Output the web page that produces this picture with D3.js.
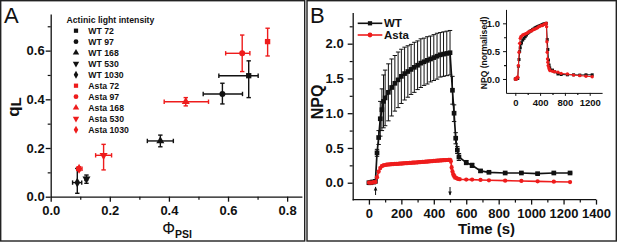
<html>
<head>
<script src="https://cdnjs.cloudflare.com/ajax/libs/d3/7.8.5/d3.min.js"></script>
<style>
    body { margin: 0; background: white; }
    svg { font-family: Arial, "Liberation Sans", sans-serif; }
</style>
</head>
<body>
<script>
// ---- panel A : qL vs PhiPSI ----
var aLabels = ["WT 72", "WT 97", "WT 168", "WT 530", "WT 1030",
               "Asta 72", "Asta 97", "Asta 168", "Asta 530", "Asta 1030"];
var aPhi   = [0.670, 0.581, 0.371, 0.121, 0.090, 0.734, 0.648, 0.457, 0.179, 0.096];
var aPhiLo = [0.569, 0.516, 0.327, 0.116, 0.074, 0.727, 0.592, 0.384, 0.152, 0.088];
var aPhiHi = [0.702, 0.649, 0.415, 0.125, 0.105, 0.739, 0.674, 0.534, 0.206, 0.106];
var aQL    = [0.497, 0.422, 0.229, 0.073, 0.058, 0.637, 0.589, 0.390, 0.170, 0.115];
var aQLLo  = [0.407, 0.381, 0.205, 0.055, 0.014, 0.578, 0.514, 0.373, 0.110, 0.107];
var aQLHi  = [0.558, 0.466, 0.253, 0.089, 0.116, 0.692, 0.664, 0.407, 0.215, 0.123];
var aTicksX = [0, 0.2, 0.4, 0.6, 0.8];
var aTicksY = [0, 0.2, 0.4, 0.6];

// ---- panel B : NPQ kinetics ----
var wtTime = [0, 10, 20, 30, 40, 50, 60, 70, 80, 90, 100,
              120, 140, 160, 180, 200, 220, 240, 260, 280, 300, 320, 340, 360, 380, 400, 420, 440, 460, 480, 500,
              515, 525, 535, 545, 555, 600, 636, 688, 740, 840, 940, 1040, 1140, 1240];
var wtNpq = [0, 0, 0.01, 0.01, 0.02, 0.43, 0.65, 0.92, 1.05, 1.17, 1.22,
             1.30, 1.37, 1.43, 1.48, 1.53, 1.57, 1.60, 1.63, 1.66, 1.69, 1.72, 1.74, 1.76, 1.78, 1.80, 1.82, 1.84, 1.85, 1.86, 1.87,
             1.33, 1.0, 0.64, 0.47, 0.37, 0.29, 0.25, 0.17, 0.15, 0.14, 0.14, 0.13, 0.14, 0.14];
var wtErr = [0, 0, 0, 0, 0, 0.05, 0.1, 0.25, 0.3, 0.38, 0.4,
             0.41, 0.41, 0.4, 0.4, 0.39, 0.38, 0.37, 0.36, 0.36, 0.35, 0.35, 0.34, 0.34, 0.33, 0.33, 0.33, 0.32, 0.32, 0.32, 0.32,
             0.2, 0.12, 0.08, 0.05, 0.05, 0.03, 0.03, 0.02, 0.01, 0.01, 0.01, 0.01, 0.01, 0.01];

var astaTime = [0, 10, 20, 30, 40, 50, 60, 70, 80, 90, 100, 110, 120, 130, 140, 150, 160, 170, 180, 190, 200,
                210, 220, 230, 240, 250, 260, 270, 280, 290, 300, 310, 320, 330, 340, 350, 360, 370, 380, 390, 400,
                410, 420, 430, 440, 450, 460, 470, 480, 490, 500,
                505, 510, 515, 520, 525, 530, 540, 550, 560, 600, 636, 688, 740, 840, 940, 1040, 1140, 1240];
var astaNpq = [0, 0, 0, 0.01, 0.01, 0.08, 0.16, 0.21, 0.24, 0.25, 0.255, 0.26, 0.262, 0.265, 0.266, 0.268, 0.27, 0.27, 0.272, 0.275, 0.276,
               0.278, 0.28, 0.281, 0.283, 0.285, 0.286, 0.288, 0.29, 0.291, 0.293, 0.295, 0.297, 0.299, 0.3, 0.302, 0.305, 0.307, 0.309, 0.31, 0.313,
               0.315, 0.317, 0.318, 0.32, 0.322, 0.324, 0.325, 0.327, 0.328, 0.33,
               0.31, 0.22, 0.16, 0.12, 0.1, 0.08, 0.065, 0.055, 0.05, 0.045, 0.045, 0.04, 0.035, 0.03, 0.025, 0.02, 0.015, 0.01];
var astaErr = [0, 0, 0, 0.01, 0.01, 0.02, 0.02, 0.02, 0.02, 0.02, 0.02, 0.02, 0.02, 0.02, 0.02, 0.02, 0.02, 0.02, 0.02, 0.02, 0.02,
               0.02, 0.02, 0.02, 0.02, 0.02, 0.02, 0.02, 0.02, 0.02, 0.02, 0.02, 0.02, 0.02, 0.02, 0.02, 0.02, 0.02, 0.02, 0.02, 0.02,
               0.02, 0.02, 0.02, 0.02, 0.02, 0.02, 0.02, 0.02, 0.02, 0.02,
               0.03, 0.03, 0.03, 0.03, 0.03, 0.03, 0.02, 0.02, 0.02, 0.01, 0.01, 0.01, 0.01, 0.01, 0.01, 0.01, 0.01, 0.01];

// inset, normalised NPQ
var insetWtNorm = [0, 0, 0.01, 0.01, 0.01, 0.23, 0.35, 0.49, 0.56, 0.63, 0.65,
                   0.70, 0.73, 0.76, 0.79, 0.82, 0.84, 0.86, 0.87, 0.89, 0.90, 0.92, 0.93, 0.94, 0.95, 0.96, 0.97, 0.98, 0.99, 0.99, 1.0,
                   0.71, 0.53, 0.34, 0.25, 0.2, 0.16, 0.13, 0.09, 0.08, 0.075, 0.075, 0.07, 0.075, 0.075];
var insetAstaTime = [0, 10, 20, 30, 40, 50, 60, 70, 80, 90, 100,
                     120, 140, 160, 180, 200, 220, 240, 260, 280, 300, 320, 340, 360, 380, 400, 420, 440, 460, 480, 500,
                     505, 510, 515, 520, 525, 530, 540, 550, 560, 600, 636, 688, 740, 840, 940, 1040, 1140, 1240];
var insetAstaNorm = [0, 0, 0, 0.03, 0.03, 0.24, 0.48, 0.64, 0.73, 0.76, 0.77,
                     0.79, 0.80, 0.81, 0.82, 0.83, 0.85, 0.86, 0.86, 0.88, 0.89, 0.90, 0.91, 0.92, 0.94, 0.95, 0.96, 0.96, 0.98, 0.99, 1.0,
                     0.94, 0.67, 0.48, 0.36, 0.3, 0.24, 0.2, 0.17, 0.15, 0.14, 0.13, 0.12, 0.1, 0.09, 0.07, 0.06, 0.05, 0.04];

var bTicksX = [0, 200, 400, 600, 800, 1000, 1200, 1400];
var bTicksY = [0, 0.5, 1.0, 1.5, 2.0];
var insetTicksX = [0, 400, 800, 1200];
var insetTicksY = [0, 0.5, 1.0];
var arrowTimes = [41, 500];
var arrowDir = ["up", "down"];

var BLACK = "#111";
var RED = "#ee1c1c";

var svg = d3.select("body").append("svg")
    .attr("width", 617)
    .attr("height", 242);

svg.append("rect").attr("width", 617).attr("height", 242).attr("fill", "white");

// panel frames
svg.append("rect").attr("x", 0.7).attr("y", 0.7).attr("width", 304).attr("height", 240.3)
    .attr("fill", "none").attr("stroke", "#222").attr("stroke-width", 1.4);
svg.append("rect").attr("x", 307).attr("y", 0.7).attr("width", 309.3).attr("height", 240.3)
    .attr("fill", "none").attr("stroke", "#222").attr("stroke-width", 1.4);

function styleAxis(g, fs) {
    g.selectAll("path, line").attr("stroke", BLACK).attr("stroke-width", 1.3);
    g.selectAll("text").attr("font-size", fs).attr("font-weight", "bold").attr("fill", BLACK)
        .attr("font-family", "Arial, 'Liberation Sans', sans-serif");
}

function minorTicks(g, axis) {
    g.call(axis);
    g.select(".domain").remove();
    g.selectAll("line").attr("stroke", BLACK).attr("stroke-width", 1.2);
}

var symbolTypes = [d3.symbolSquare, d3.symbolCircle, d3.symbolTriangle, d3.symbolTriangle, d3.symbolDiamond];
var symbolRot = [0, 0, 0, 180, 0];

// ================= Panel A =================
var xA = d3.scaleLinear().domain([0, 0.85]).range([50.7, 301.9]);
var yA = d3.scaleLinear().domain([0, 0.75]).range([196.7, 14.1]);

var gA = svg.append("g");

minorTicks(gA.append("g").attr("transform", "translate(0,196.7)"),
    d3.axisBottom(xA).tickValues([0.1, 0.3, 0.5, 0.7]).tickSize(3).tickFormat(""));
minorTicks(gA.append("g").attr("transform", "translate(50.7,0)"),
    d3.axisLeft(yA).tickValues([0.1, 0.3, 0.5, 0.7]).tickSize(3).tickFormat(""));

var axAx = gA.append("g").attr("transform", "translate(0,196.7)")
    .call(d3.axisBottom(xA).tickValues(aTicksX).tickFormat(d3.format(".1f")).tickSize(5).tickSizeOuter(0).tickPadding(4));
styleAxis(axAx, 13);
var axAy = gA.append("g").attr("transform", "translate(50.7,0)")
    .call(d3.axisLeft(yA).tickValues(aTicksY).tickFormat(d3.format(".1f")).tickSize(5).tickSizeOuter(0).tickPadding(1));
styleAxis(axAy, 13);

// error bars + points
aLabels.forEach(function (lab, i) {
    var col = i < 5 ? BLACK : RED;
    var g = gA.append("g").attr("stroke", col).attr("stroke-width", 1.4);
    var cy = yA(aQL[i]), cx = xA(aPhi[i]);
    g.append("line").attr("x1", xA(aPhiLo[i])).attr("x2", xA(aPhiHi[i])).attr("y1", cy).attr("y2", cy);
    g.append("line").attr("x1", xA(aPhiLo[i])).attr("x2", xA(aPhiLo[i])).attr("y1", cy - 2.2).attr("y2", cy + 2.2);
    g.append("line").attr("x1", xA(aPhiHi[i])).attr("x2", xA(aPhiHi[i])).attr("y1", cy - 2.2).attr("y2", cy + 2.2);
    g.append("line").attr("x1", cx).attr("x2", cx).attr("y1", yA(aQLLo[i])).attr("y2", yA(aQLHi[i]));
    g.append("line").attr("x1", cx - 2.2).attr("x2", cx + 2.2).attr("y1", yA(aQLLo[i])).attr("y2", yA(aQLLo[i]));
    g.append("line").attr("x1", cx - 2.2).attr("x2", cx + 2.2).attr("y1", yA(aQLHi[i])).attr("y2", yA(aQLHi[i]));
    gA.append("path")
        .attr("d", d3.symbol().type(symbolTypes[i % 5]).size(28)())
        .attr("transform", "translate(" + cx + "," + cy + ") rotate(" + symbolRot[i % 5] + ")")
        .attr("fill", col);
});

// legend A
gA.append("text").attr("x", 66.5).attr("y", 22.5).attr("font-size", 8.7).attr("font-weight", "bold")
    .attr("fill", BLACK).text("Actinic light intensity");
aLabels.forEach(function (lab, i) {
    var col = i < 5 ? BLACK : RED;
    var ly = 30.7 + i * 11;
    gA.append("path")
        .attr("d", d3.symbol().type(symbolTypes[i % 5]).size(18)())
        .attr("transform", "translate(76," + ly + ") rotate(" + symbolRot[i % 5] + ")")
        .attr("fill", col);
    gA.append("text").attr("x", 88.3).attr("y", ly + 3.2).attr("font-size", 8.7).attr("font-weight", "bold")
        .attr("fill", BLACK).text(lab);
});

// axis titles A
var qlab = gA.append("text").attr("transform", "translate(19,107) rotate(-90)")
    .attr("text-anchor", "middle").attr("font-size", 17).attr("font-weight", "bold").attr("fill", BLACK);
qlab.append("tspan").text("q");
qlab.append("tspan").attr("font-size", 15).attr("dy", 2).text("L");

var plab = gA.append("text").attr("x", 177).attr("y", 233.5).attr("text-anchor", "middle").attr("fill", BLACK);
plab.append("tspan").attr("font-size", 16).text("\u03A6");
plab.append("tspan").attr("font-size", 10.5).attr("font-weight", "bold").attr("dy", 4).text("PSI");

gA.append("text").attr("x", 4).attr("y", 23).attr("font-size", 22).attr("fill", BLACK).text("A");

// ================= Panel B =================
var xB = d3.scaleLinear().domain([-100, 1400]).range([352.7, 596]);
var yB = d3.scaleLinear().domain([-0.25, 2.45]).range([200.1, 12.4]);
var gB = svg.append("g");

minorTicks(gB.append("g").attr("transform", "translate(0,199.6)"),
    d3.axisBottom(xB).tickValues([100, 300, 500, 700, 900, 1100, 1300]).tickSize(3).tickFormat(""));
minorTicks(gB.append("g").attr("transform", "translate(352.7,0)"),
    d3.axisLeft(yB).tickValues([0.25, 0.75, 1.25, 1.75, 2.25]).tickSize(3).tickFormat(""));

var axBx = gB.append("g").attr("transform", "translate(0,199.6)")
    .call(d3.axisBottom(xB).tickValues(bTicksX).tickFormat(d3.format("d")).tickSize(5).tickSizeOuter(0).tickPadding(4));
styleAxis(axBx, 13);
axBx.select(".domain").attr("d", "M352.7,0H596");
var axBy = gB.append("g").attr("transform", "translate(352.7,0)")
    .call(d3.axisLeft(yB).tickValues(bTicksY).tickFormat(d3.format(".1f")).tickSize(5).tickSizeOuter(0).tickPadding(4));
styleAxis(axBy, 13);

// arrows marking light on / off
arrowTimes.forEach(function (t, i) {
    var ax = xB(t);
    var g = gB.append("g").attr("fill", BLACK).attr("stroke", BLACK);
    g.append("line").attr("x1", ax).attr("x2", ax).attr("y1", 187).attr("y2", 195).attr("stroke-width", 1);
    var tip = arrowDir[i] === "up" ? 186.5 : 195.5;
    var base = arrowDir[i] === "up" ? 190.5 : 191.5;
    g.append("path").attr("stroke", "none")
        .attr("d", "M" + ax + "," + tip + "L" + (ax - 1.8) + "," + base + "L" + (ax + 1.8) + "," + base + "Z");
});

var wtData = wtTime.map(function (t, i) { return { t: t, v: wtNpq[i], e: wtErr[i] }; });
var astaData = astaTime.map(function (t, i) { return { t: t, v: astaNpq[i], e: astaErr[i] }; });

function errBars(g, data, xs, ys, col, w, cap) {
    data.forEach(function (d) {
        if (d.e <= 0) return;
        var x = xs(d.t);
        g.append("line").attr("x1", x).attr("x2", x).attr("y1", ys(d.v - d.e)).attr("y2", ys(d.v + d.e))
            .attr("stroke", col).attr("stroke-width", w);
        [d.v - d.e, d.v + d.e].forEach(function (v) {
            g.append("line").attr("x1", x - cap).attr("x2", x + cap).attr("y1", ys(v)).attr("y2", ys(v))
                .attr("stroke", col).attr("stroke-width", w);
        });
    });
}

function series(g, data, xs, ys, col, sym, size, lw) {
    var line = d3.line().x(function (d) { return xs(d.t); }).y(function (d) { return ys(d.v); });
    g.append("path").datum(data).attr("d", line).attr("fill", "none").attr("stroke", col).attr("stroke-width", lw);
    g.selectAll(null).data(data).enter().append("path")
        .attr("d", d3.symbol().type(sym).size(size)())
        .attr("transform", function (d) { return "translate(" + xs(d.t) + "," + ys(d.v) + ")"; })
        .attr("fill", col);
}

errBars(gB.append("g"), astaData, xB, yB, "#f47a7a", 1, 1.5);
errBars(gB.append("g"), wtData, xB, yB, BLACK, 1, 2.2);
series(gB.append("g"), wtData, xB, yB, BLACK, d3.symbolSquare, 22, 1.7);
series(gB.append("g"), astaData, xB, yB, RED, d3.symbolCircle, 14, 1.6);

// legend B
[["WT", BLACK, d3.symbolSquare, 23.3], ["Asta", RED, d3.symbolCircle, 35]].forEach(function (e) {
    gB.append("line").attr("x1", 357.7).attr("x2", 382.3).attr("y1", e[3]).attr("y2", e[3])
        .attr("stroke", e[1]).attr("stroke-width", 1.6);
    gB.append("path").attr("d", d3.symbol().type(e[2]).size(18)())
        .attr("transform", "translate(370," + e[3] + ")").attr("fill", e[1]);
    gB.append("text").attr("x", 384).attr("y", e[3] + 4).attr("font-size", 11.5).attr("font-weight", "bold")
        .attr("fill", BLACK).text(e[0]);
});

gB.append("text").attr("transform", "translate(323,102) rotate(-90)").attr("text-anchor", "middle")
    .attr("font-size", 16).attr("font-weight", "bold").attr("fill", BLACK).text("NPQ");
gB.append("text").attr("x", 486.5).attr("y", 234).attr("text-anchor", "middle")
    .attr("font-size", 15).attr("font-weight", "bold").attr("fill", BLACK).text("Time (s)");
gB.append("text").attr("x", 310).attr("y", 23).attr("font-size", 22).attr("fill", BLACK).text("B");

// ---- inset ----
var xI = d3.scaleLinear().domain([-150, 1400]).range([506, 602.1]);
var yI = d3.scaleLinear().domain([-0.25, 1.25]).range([92.9, 9.4]);
var gI = svg.append("g");

minorTicks(gI.append("g").attr("transform", "translate(0,92.9)"),
    d3.axisBottom(xI).tickValues([200, 600, 1000]).tickSize(2).tickFormat(""));
minorTicks(gI.append("g").attr("transform", "translate(506,0)"),
    d3.axisLeft(yI).tickValues([0.25, 0.75]).tickSize(2).tickFormat(""));
var axIx = gI.append("g").attr("transform", "translate(0,92.9)")
    .call(d3.axisBottom(xI).tickValues(insetTicksX).tickFormat(d3.format("d")).tickSize(3).tickSizeOuter(0).tickPadding(3));
styleAxis(axIx, 9.5);
axIx.selectAll("path, line").attr("stroke-width", 1);
var axIy = gI.append("g").attr("transform", "translate(506,0)")
    .call(d3.axisLeft(yI).tickValues(insetTicksY).tickFormat(d3.format(".1f")).tickSize(3).tickSizeOuter(0).tickPadding(3));
styleAxis(axIy, 9.5);
axIy.selectAll("path, line").attr("stroke-width", 1);

var insetWt = wtTime.map(function (t, i) { return { t: t, v: insetWtNorm[i] }; });
var insetAsta = insetAstaTime.map(function (t, i) { return { t: t, v: insetAstaNorm[i] }; });
series(gI.append("g"), insetWt, xI, yI, BLACK, d3.symbolSquare, 9, 1);
series(gI.append("g"), insetAsta, xI, yI, RED, d3.symbolCircle, 9, 1);

gI.append("text").attr("transform", "translate(487,53) rotate(-90)").attr("text-anchor", "middle")
    .attr("font-size", 8.6).attr("font-weight", "bold").attr("fill", BLACK).text("NPQ (normalised)");
</script>
</body>
</html>
